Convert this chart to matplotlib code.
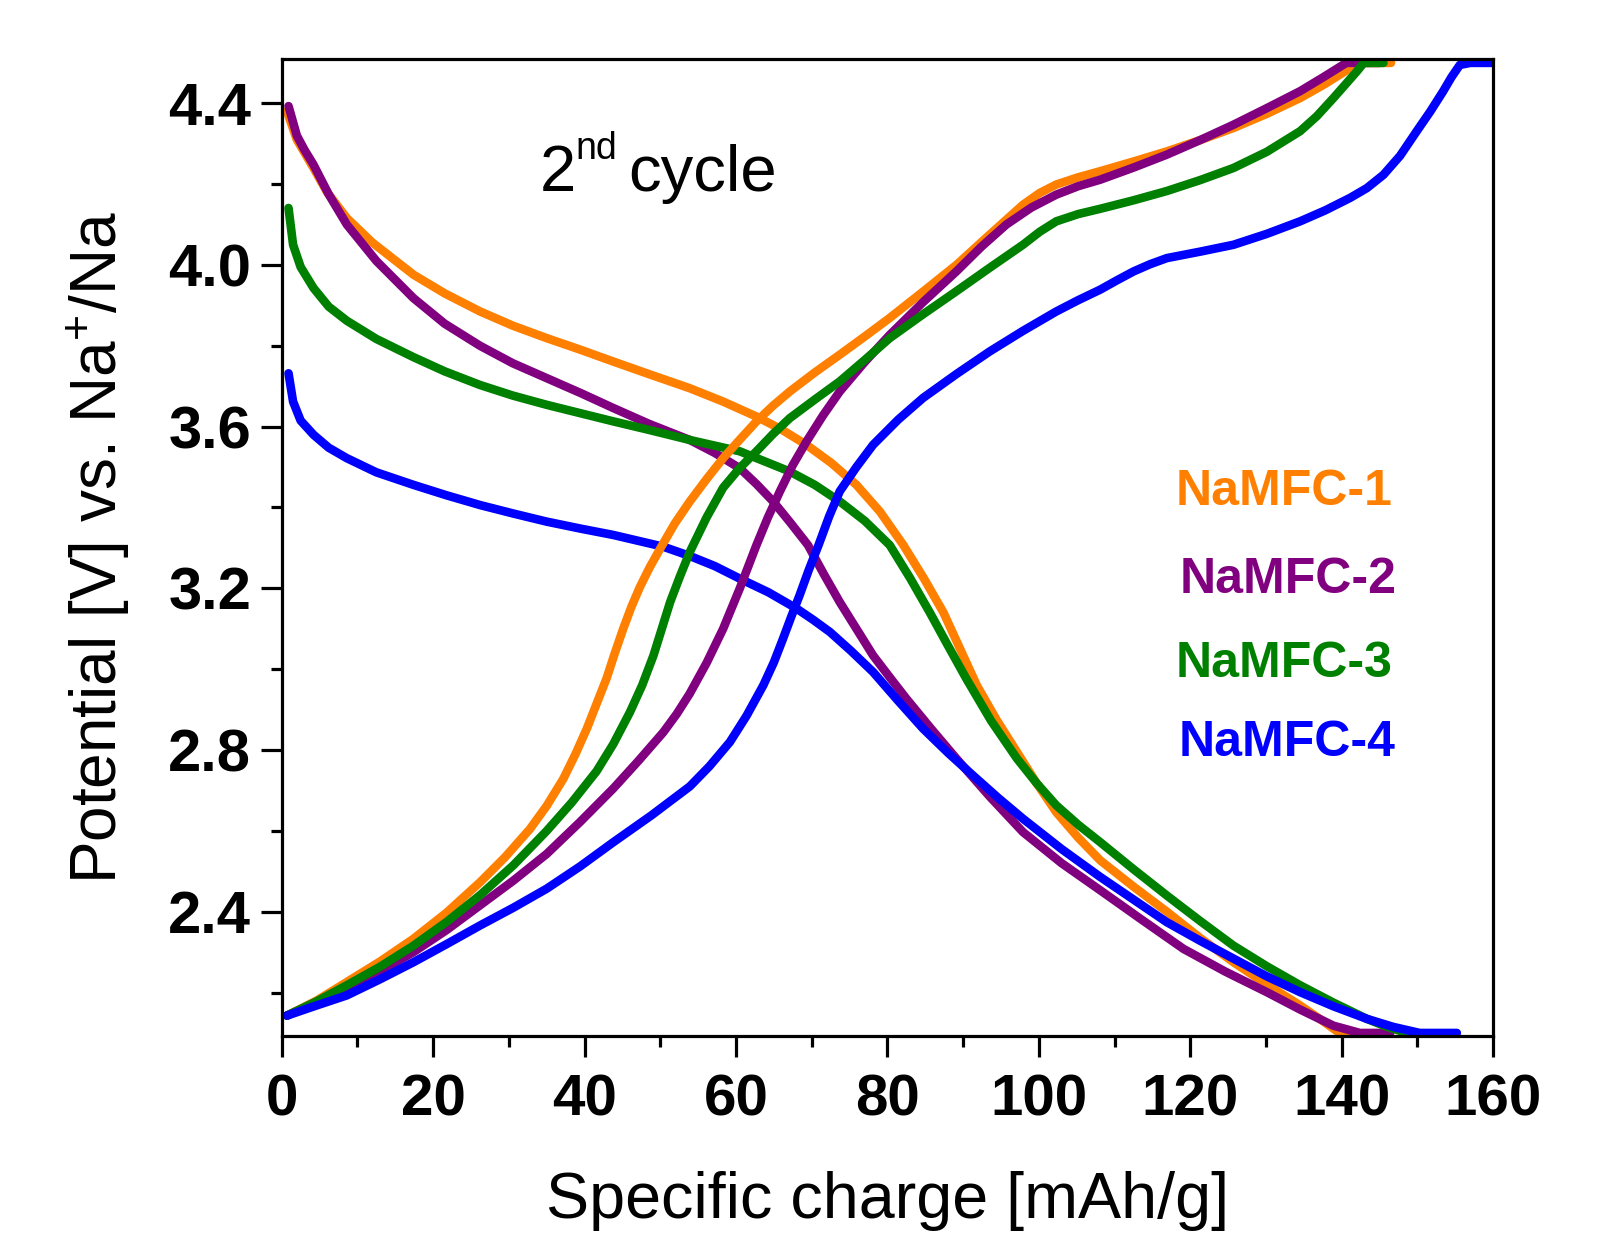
import matplotlib
matplotlib.use("Agg")
import matplotlib.pyplot as plt
from matplotlib.ticker import MultipleLocator, FormatStrFormatter

plt.rcParams['font.family'] = ['Liberation Sans', 'DejaVu Sans']
plt.rcParams['mathtext.fontset'] = 'custom'
plt.rcParams['mathtext.rm'] = 'Liberation Sans'
plt.rcParams['mathtext.it'] = 'Liberation Sans:italic'
plt.rcParams['mathtext.bf'] = 'Liberation Sans:bold'

# ---------------- data ----------------
names = ["NaMFC-1", "NaMFC-2", "NaMFC-3", "NaMFC-4"]
colors = ["#FF8000", "#800080", "#008000", "#0000FF"]

# discharge curves (specific charge [mAh/g], potential [V])
d1_x = [0.7, 2.0, 4.2, 6.0, 8.6, 12.0, 17.4, 21.5, 26.2, 30.5, 35.0, 39.5, 43.8, 48.5, 53.9, 58.3, 62.7, 66.0, 69.3, 72.6, 75.9, 79.0,
        82.1, 84.8, 87.4, 89.6, 91.8, 94.4, 97.1, 99.7, 102.3, 105.2, 108.1, 112.5, 116.9, 121.3, 125.7, 130.1, 134.5, 137.3, 139.7, 141.0]
d1_v = [4.38, 4.31, 4.24, 4.18, 4.116, 4.055, 3.976, 3.93, 3.885, 3.85, 3.819, 3.79, 3.761, 3.73, 3.695, 3.662, 3.625, 3.593, 3.555, 3.51, 3.456, 3.39,
        3.307, 3.225, 3.14, 3.05, 2.96, 2.875, 2.795, 2.718, 2.646, 2.583, 2.527, 2.462, 2.40, 2.335, 2.275, 2.22, 2.168, 2.132, 2.100, 2.095]

d2_x = [0.9, 2.0, 3.0, 4.2, 6.2, 8.6, 12.5, 17.4, 21.5, 26.2, 30.5, 35.0, 39.5, 43.8, 48.5, 53.9, 57.2, 60.5, 62.7, 64.9, 67.2, 69.5, 71.6,
        73.7, 75.9, 78.1, 80.3, 82.5, 85.8, 89.1, 93.5, 97.9, 103.0, 108.1, 113.6, 119.1, 124.6, 130.1, 134.5, 138.9, 142.4, 146.4]
d2_v = [4.393, 4.32, 4.285, 4.248, 4.175, 4.10, 4.01, 3.918, 3.855, 3.80, 3.757, 3.72, 3.683, 3.646, 3.607, 3.567, 3.535, 3.497, 3.458, 3.415, 3.362, 3.307, 3.235,
        3.166, 3.10, 3.034, 2.98, 2.927, 2.852, 2.779, 2.685, 2.597, 2.52, 2.453, 2.38, 2.308, 2.252, 2.201, 2.158, 2.118, 2.10, 2.10]

d3_x = [0.9, 1.5, 2.5, 4.2, 6.2, 8.6, 12.5, 17.4, 21.5, 26.2, 30.5, 35.0, 39.5, 43.8, 48.5, 53.9, 60.5, 67.1, 70.4, 73.7, 77.0, 80.3, 83.0,
        85.6, 88.0, 90.4, 93.7, 97.1, 99.7, 102.3, 105.2, 108.1, 112.5, 116.9, 121.3, 125.7, 130.1, 134.5, 138.9, 143.3, 146.0, 148.6, 150.5]
d3_v = [4.141, 4.05, 3.995, 3.943, 3.897, 3.862, 3.817, 3.772, 3.737, 3.703, 3.677, 3.654, 3.633, 3.613, 3.592, 3.567, 3.539, 3.489, 3.456, 3.415, 3.367, 3.307, 3.225,
        3.14, 3.058, 2.977, 2.872, 2.779, 2.718, 2.663, 2.615, 2.572, 2.505, 2.44, 2.377, 2.316, 2.265, 2.218, 2.175, 2.135, 2.115, 2.10, 2.097]

d4_x = [0.9, 1.5, 2.5, 4.2, 6.2, 8.6, 12.5, 17.4, 21.8, 26.2, 30.6, 35.0, 39.4, 43.8, 50.4, 53.9, 57.2, 60.5, 64.3, 68.0, 70.2, 72.4, 75.2,
        78.1, 81.4, 84.7, 88.0, 91.3, 94.6, 97.9, 103.0, 108.1, 112.5, 116.9, 121.3, 125.7, 130.1, 134.5, 138.9, 143.3, 146.8, 150.3, 155.2]
d4_v = [3.732, 3.662, 3.615, 3.58, 3.548, 3.522, 3.487, 3.456, 3.43, 3.406, 3.385, 3.365, 3.348, 3.332, 3.303, 3.28, 3.255, 3.224, 3.19, 3.15, 3.122, 3.092, 3.045,
        2.993, 2.922, 2.853, 2.793, 2.737, 2.682, 2.63, 2.555, 2.486, 2.43, 2.374, 2.328, 2.284, 2.24, 2.201, 2.166, 2.135, 2.115, 2.10, 2.10]

# charge curves
c1_x = [0.7, 4.6, 8.6, 13.0, 17.4, 21.8, 26.2, 29.5, 32.8, 35.0, 37.2, 38.8, 40.3, 41.6, 42.9, 44.0, 45.1, 46.2, 47.3, 48.6, 49.95, 51.9,
        53.9, 56.1, 58.3, 60.5, 62.7, 64.9, 67.1, 70.4, 73.7, 77.0, 80.3, 84.7, 89.1, 93.5, 95.7, 97.9, 100.1, 102.3, 105.2, 108.1, 112.5,
        116.9, 121.3, 125.7, 130.1, 134.5, 137.8, 141.1, 142.5, 146.5]
c1_v = [2.143, 2.18, 2.226, 2.277, 2.333, 2.398, 2.473, 2.535, 2.605, 2.662, 2.729, 2.79, 2.853, 2.915, 2.977, 3.04, 3.10, 3.155, 3.203, 3.252, 3.297, 3.36,
        3.415, 3.47, 3.522, 3.568, 3.613, 3.652, 3.687, 3.734, 3.778, 3.823, 3.869, 3.934, 4.0, 4.075, 4.112, 4.149, 4.178, 4.199, 4.217, 4.232, 4.256,
        4.281, 4.309, 4.339, 4.374, 4.413, 4.448, 4.487, 4.50, 4.50]

c2_x = [0.7, 4.6, 8.6, 13.0, 17.4, 21.8, 26.2, 30.6, 35.0, 39.4, 43.8, 47.1, 50.4, 52.2, 53.9, 56.1, 58.3, 60.5, 62.7, 64.2, 65.8, 67.5,
        69.3, 71.5, 73.7, 77.0, 80.3, 84.7, 89.1, 92.4, 95.7, 99.0, 102.3, 105.2, 108.1, 112.5, 116.9, 121.3, 125.7, 130.1, 134.5, 137.6,
        140.6, 145.0]
c2_v = [2.143, 2.175, 2.209, 2.253, 2.30, 2.355, 2.416, 2.477, 2.543, 2.622, 2.705, 2.773, 2.844, 2.89, 2.94, 3.015, 3.10, 3.20, 3.307, 3.375, 3.44, 3.505,
        3.563, 3.628, 3.687, 3.76, 3.827, 3.908, 3.984, 4.045, 4.10, 4.142, 4.174, 4.195, 4.211, 4.241, 4.273, 4.309, 4.347, 4.388, 4.43, 4.465,
        4.50, 4.50]

c3_x = [0.7, 4.6, 8.6, 13.0, 17.4, 21.8, 26.2, 30.6, 35.0, 38.3, 41.6, 43.8, 46.0, 47.6, 49.1, 50.2, 51.3, 52.6, 53.9, 56.1, 58.3, 60.5,
        62.7, 64.9, 67.1, 70.4, 73.7, 77.0, 80.3, 84.7, 89.1, 93.5, 97.9, 100.1, 102.3, 105.2, 108.1, 112.5, 116.9, 121.3, 125.7, 130.1,
        134.5, 136.7, 138.9, 140.5, 142.0, 142.9, 145.5]
c3_v = [2.143, 2.178, 2.218, 2.264, 2.316, 2.375, 2.441, 2.515, 2.60, 2.67, 2.748, 2.815, 2.894, 2.96, 3.034, 3.10, 3.166, 3.23, 3.29, 3.375, 3.449, 3.498,
        3.539, 3.582, 3.621, 3.667, 3.712, 3.765, 3.819, 3.878, 3.935, 3.993, 4.05, 4.082, 4.108, 4.126, 4.139, 4.16, 4.183, 4.21, 4.24, 4.28,
        4.331, 4.368, 4.413, 4.447, 4.479, 4.50, 4.50]

c4_x = [0.7, 4.6, 8.6, 13.0, 17.4, 21.8, 26.2, 30.6, 35.0, 39.4, 43.8, 48.8, 53.9, 56.5, 59.2, 61.4, 63.6, 65.0, 66.2, 67.3, 68.4, 69.6,
        70.9, 72.3, 73.7, 75.9, 78.1, 81.4, 84.7, 89.1, 93.5, 97.9, 102.3, 105.2, 108.1, 110.3, 112.5, 114.7, 116.9, 121.3, 125.7, 130.1,
        134.5, 137.8, 141.1, 143.3, 145.5, 147.7, 149.9, 151.7, 153.4, 154.5, 155.6, 157.0, 160.0]
c4_v = [2.143, 2.168, 2.193, 2.233, 2.275, 2.32, 2.366, 2.41, 2.457, 2.512, 2.572, 2.638, 2.71, 2.76, 2.82, 2.885, 2.96, 3.017, 3.075, 3.13, 3.183, 3.245,
        3.307, 3.378, 3.44, 3.50, 3.555, 3.617, 3.671, 3.73, 3.786, 3.837, 3.885, 3.913, 3.939, 3.962, 3.984, 4.002, 4.017, 4.033, 4.05, 4.077,
        4.108, 4.135, 4.166, 4.19, 4.223, 4.27, 4.331, 4.38, 4.43, 4.465, 4.495, 4.50, 4.50]

discharge = [(d1_x, d1_v), (d2_x, d2_v), (d3_x, d3_v), (d4_x, d4_v)]
charge = [(c1_x, c1_v), (c2_x, c2_v), (c3_x, c3_v), (c4_x, c4_v)]

# label positions (data coords)
label_x = [118.0, 118.6, 118.0, 118.4]
label_v = [3.407, 3.188, 2.981, 2.786]

# ---------------- figure ----------------
fig = plt.figure(figsize=(15.97, 12.42), dpi=100)
ax = fig.add_axes([0.1764, 0.1659, 0.935 - 0.1764, 0.9525 - 0.1659])

lw = 6.2
for (x, v), col in zip(discharge, colors):
    ax.plot(x, v, color=col, lw=lw, solid_capstyle='round', solid_joinstyle='round')
for (x, v), col in zip(charge, colors):
    ax.plot(x, v, color=col, lw=lw, solid_capstyle='round', solid_joinstyle='round')

ax.set_xlim(0, 160)
ax.set_ylim(2.0926, 4.5096)

ax.xaxis.set_major_locator(MultipleLocator(20))
ax.xaxis.set_minor_locator(MultipleLocator(10))
ax.set_yticks([2.4, 2.8, 3.2, 3.6, 4.0, 4.4])
ax.set_yticks([2.2, 2.6, 3.0, 3.4, 3.8, 4.2], minor=True)
ax.yaxis.set_major_formatter(FormatStrFormatter('%.1f'))

for s in ax.spines.values():
    s.set_linewidth(2.3)

ax.tick_params(which='major', direction='out', length=15, width=2.3,
               top=False, right=False)
ax.tick_params(which='minor', direction='out', length=8, width=2.3,
               top=False, right=False)
ax.tick_params(axis='x', which='major', labelsize=42, pad=12)
ax.tick_params(axis='y', which='major', labelsize=43, pad=7)
for lab in ax.get_xticklabels() + ax.get_yticklabels():
    lab.set_fontweight('bold')

ax.set_xlabel("Specific charge [mAh/g]", fontsize=46.5, labelpad=31)
ax.set_ylabel("Potential [V] vs. Na$^{+}$/Na", fontsize=46, labelpad=26)

# "2nd cycle" annotation
ax.text(34.1, 4.184, "2", fontsize=47, ha='left', va='baseline')
ax.text(38.8, 4.262, "nd", fontsize=27, ha='left', va='baseline')
ax.text(45.8, 4.184, "cycle", fontsize=47, ha='left', va='baseline')

for name, col, lx, lv in zip(names, colors, label_x, label_v):
    ax.text(lx, lv, name, color=col, fontsize=36, fontweight='bold', ha='left', va='baseline')

fig.savefig("out.png", dpi=100)
